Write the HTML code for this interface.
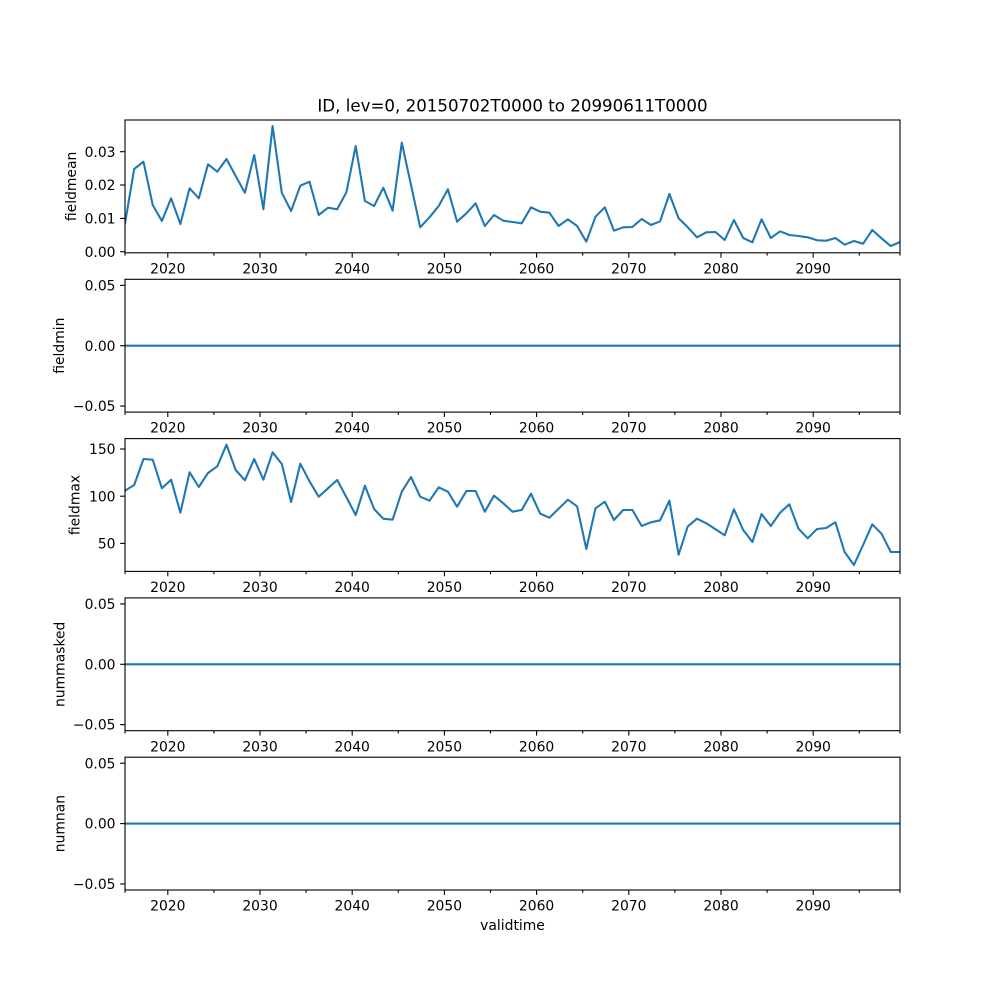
<!DOCTYPE html>
<html>
<head>
<meta charset="utf-8">
<style>
html,body{margin:0;padding:0;background:#fff;}
svg{display:block;}
text{font-family:"DejaVu Sans","Liberation Sans",sans-serif;fill:#000;}
</style>
</head>
<body>
<svg width="1000" height="1000" viewBox="0 0 1000 1000" xmlns="http://www.w3.org/2000/svg">
<rect width="1000" height="1000" fill="#fff"/>
<defs>
<clipPath id="c1"><rect x="125" y="120" width="775" height="132.8"/></clipPath>
<clipPath id="c3"><rect x="125" y="438.6" width="775" height="132.8"/></clipPath>
<g id="xt">
<g stroke="#000" stroke-width="1.1">
<line x1="167.8" y1="0" x2="167.8" y2="4.9"/>
<line x1="260" y1="0" x2="260" y2="4.9"/>
<line x1="352.2" y1="0" x2="352.2" y2="4.9"/>
<line x1="444.4" y1="0" x2="444.4" y2="4.9"/>
<line x1="536.6" y1="0" x2="536.6" y2="4.9"/>
<line x1="628.8" y1="0" x2="628.8" y2="4.9"/>
<line x1="721" y1="0" x2="721" y2="4.9"/>
<line x1="813.2" y1="0" x2="813.2" y2="4.9"/>
<line x1="125" y1="0" x2="125" y2="2.8"/>
<line x1="213.9" y1="0" x2="213.9" y2="2.8"/>
<line x1="306.1" y1="0" x2="306.1" y2="2.8"/>
<line x1="398.3" y1="0" x2="398.3" y2="2.8"/>
<line x1="490.5" y1="0" x2="490.5" y2="2.8"/>
<line x1="582.7" y1="0" x2="582.7" y2="2.8"/>
<line x1="674.9" y1="0" x2="674.9" y2="2.8"/>
<line x1="767.1" y1="0" x2="767.1" y2="2.8"/>
<line x1="859.3" y1="0" x2="859.3" y2="2.8"/>
<line x1="900" y1="0" x2="900" y2="2.8"/>
</g>
<g font-size="13.9" text-anchor="middle">
<text x="167.8" y="20.6">2020</text>
<text x="260" y="20.6">2030</text>
<text x="352.2" y="20.6">2040</text>
<text x="444.4" y="20.6">2050</text>
<text x="536.6" y="20.6">2060</text>
<text x="628.8" y="20.6">2070</text>
<text x="721" y="20.6">2080</text>
<text x="813.2" y="20.6">2090</text>
</g>
</g>
<g id="zp">
<line x1="125" y1="66.4" x2="900" y2="66.4" stroke="#1f77b4" stroke-width="2.08"/>
<g stroke="#000" stroke-width="1.1">
<line x1="120.1" y1="6.04" x2="125" y2="6.04"/>
<line x1="120.1" y1="66.4" x2="125" y2="66.4"/>
<line x1="120.1" y1="126.76" x2="125" y2="126.76"/>
</g>
<g font-size="13.9" text-anchor="end">
<text x="115.5" y="11.1">0.05</text>
<text x="115.5" y="71.5">0.00</text>
<text x="115.5" y="131.8">−0.05</text>
</g>
<rect x="125" y="0" width="775" height="132.8" fill="none" stroke="#000" stroke-width="1.1"/>
</g>
</defs>

<!-- Title -->
<text x="512.5" y="111.5" font-size="16.67" text-anchor="middle">ID, lev=0, 20150702T0000 to 20990611T0000</text>

<!-- Panel 1: fieldmean -->
<g clip-path="url(#c1)">
<polyline fill="none" stroke="#1f77b4" stroke-width="2.08" stroke-linejoin="round" stroke-linecap="square" points="125.0,223.3 134.2,169 143.5,161.7 152.7,205 161.9,221 171.1,198.3 180.4,224 189.6,188.3 198.8,198.3 208.0,164.3 217.3,171.7 226.5,159 235.7,176 244.9,192.7 254.2,155 263.4,209.3 272.6,126 281.8,192.7 291.1,211 300.3,185.7 309.5,181.7 318.7,215 328.0,207.7 337.2,209.3 346.4,192.3 355.7,146 364.9,201 374.1,206 383.3,187.7 392.6,210.7 401.8,142.7 411.0,185 420.2,227.3 429.5,217.3 438.7,206 447.9,189.3 457.1,221.7 466.4,213.3 475.6,203.3 484.8,226 494.0,215 503.3,220.7 512.5,222 521.7,223.3 531.0,207.3 540.2,211.7 549.4,212.7 558.6,226 567.9,219.3 577.1,226 586.3,241.7 595.5,216.7 604.8,207.3 614.0,230.7 623.2,227.3 632.4,227 641.7,219 650.9,225 660.1,221.3 669.4,194 678.6,218.3 687.8,227.3 697.0,237.3 706.3,232.3 715.5,232 724.7,240 733.9,220 743.2,238 752.4,242.3 761.6,219.3 770.8,238 780.1,231.3 789.3,235 798.5,236 807.7,237.3 817.0,240.3 826.2,240.7 835.4,238 844.6,244.7 853.9,241 863.1,243.7 872.3,230 881.5,238.3 890.8,246 900.0,242"/>
</g>
<g stroke="#000" stroke-width="1.1">
<line x1="120.1" y1="251.7" x2="125" y2="251.7"/>
<line x1="120.1" y1="218.4" x2="125" y2="218.4"/>
<line x1="120.1" y1="185.0" x2="125" y2="185.0"/>
<line x1="120.1" y1="151.7" x2="125" y2="151.7"/>
</g>
<g font-size="13.9" text-anchor="end">
<text x="115.5" y="256.8">0.00</text>
<text x="115.5" y="223.5">0.01</text>
<text x="115.5" y="190.1">0.02</text>
<text x="115.5" y="156.8">0.03</text>
</g>
<rect x="125" y="120" width="775" height="132.8" fill="none" stroke="#000" stroke-width="1.1"/>
<use href="#xt" transform="translate(0,252.8)"/>
<text transform="translate(76,186.4) rotate(-90)" font-size="13.9" text-anchor="middle">fieldmean</text>

<!-- Panel 2: fieldmin -->
<use href="#zp" transform="translate(0,279.3)"/>
<use href="#xt" transform="translate(0,412.1)"/>
<text transform="translate(64.2,345.7) rotate(-90)" font-size="13.9" text-anchor="middle">fieldmin</text>

<!-- Panel 3: fieldmax -->
<g clip-path="url(#c3)">
<polyline fill="none" stroke="#1f77b4" stroke-width="2.08" stroke-linejoin="round" stroke-linecap="square" points="125.0,490.7 134.2,485 143.5,459 152.7,459.7 161.9,488.3 171.1,479.7 180.4,512.7 189.6,472.3 198.8,487 208.0,473 217.3,466.3 226.5,444.7 235.7,470 244.9,480.3 254.2,459 263.4,479.7 272.6,452.3 281.8,464 291.1,502 300.3,463.7 309.5,481.3 318.7,496.7 328.0,488.3 337.2,480 346.4,497.3 355.7,515 364.9,485.7 374.1,509 383.3,518.7 392.6,519.7 401.8,491.7 411.0,477 420.2,496.7 429.5,500.7 438.7,487.3 447.9,491.7 457.1,506.7 466.4,491 475.6,491 484.8,511.7 494.0,495.7 503.3,503.3 512.5,511.7 521.7,510 531.0,493.7 540.2,513.7 549.4,517.7 558.6,508.7 567.9,499.7 577.1,506.3 586.3,549 595.5,508.3 604.8,501.7 614.0,520 623.2,510 632.4,510 641.7,526 650.9,522.3 660.1,520.3 669.4,500.7 678.6,554.7 687.8,526.3 697.0,518.7 706.3,523.3 715.5,529.3 724.7,535.3 733.9,509.3 743.2,530 752.4,542 761.6,514 770.8,526 780.1,512.7 789.3,504.3 798.5,528.7 807.7,538.3 817.0,529 826.2,528 835.4,522.3 844.6,552 853.9,565 863.1,545 872.3,524.3 881.5,533.7 890.8,552 900.0,552"/>
</g>
<g stroke="#000" stroke-width="1.1">
<line x1="120.1" y1="449" x2="125" y2="449"/>
<line x1="120.1" y1="496.2" x2="125" y2="496.2"/>
<line x1="120.1" y1="543.4" x2="125" y2="543.4"/>
</g>
<g font-size="13.9" text-anchor="end">
<text x="115.5" y="454.1">150</text>
<text x="115.5" y="501.3">100</text>
<text x="115.5" y="548.5">50</text>
</g>
<rect x="125" y="438.6" width="775" height="132.8" fill="none" stroke="#000" stroke-width="1.1"/>
<use href="#xt" transform="translate(0,571.4)"/>
<text transform="translate(79.5,505) rotate(-90)" font-size="13.9" text-anchor="middle">fieldmax</text>

<!-- Panel 4: nummasked -->
<use href="#zp" transform="translate(0,597.9)"/>
<use href="#xt" transform="translate(0,730.7)"/>
<text transform="translate(64.5,664.3) rotate(-90)" font-size="13.9" text-anchor="middle">nummasked</text>

<!-- Panel 5: numnan -->
<use href="#zp" transform="translate(0,757.2)"/>
<use href="#xt" transform="translate(0,890)"/>
<text transform="translate(64.5,823.6) rotate(-90)" font-size="13.9" text-anchor="middle">numnan</text>

<!-- x label -->
<text x="512.5" y="930" font-size="13.9" text-anchor="middle">validtime</text>
</svg>
</body>
</html>
